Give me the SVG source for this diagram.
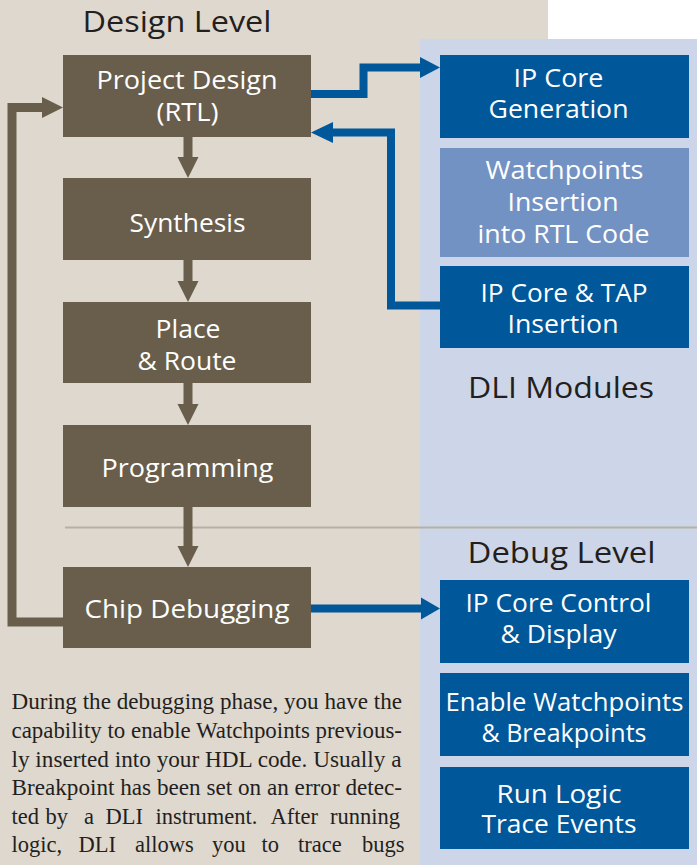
<svg xmlns="http://www.w3.org/2000/svg" width="697" height="865" viewBox="0 0 697 865">
<style>
.bx{fill:#695e4b}
.bl{fill:#00579a}
.lb{fill:#7292c3}
.t{font-family:"Open Sans","Noto Sans",sans-serif;font-size:26px;fill:#ffffff}
.h{font-family:"Open Sans","Noto Sans",sans-serif;font-size:30px;fill:#231f20}
.p{font-family:"Liberation Serif","Times New Roman",serif;font-size:22.5px;fill:#231f20}
.bc{fill:none;stroke:#695e4b;stroke-width:9;stroke-linejoin:miter}
.uc{fill:none;stroke:#00579a;stroke-width:8;stroke-linejoin:miter}
.ba{fill:#695e4b}
.ua{fill:#00579a}
</style>
<rect x="0" y="0" width="697" height="865" fill="#dfd8cf"/>
<rect x="548" y="0" width="149" height="39" fill="#ffffff"/>
<rect x="420" y="39" width="277" height="826" fill="#cdd6e8"/>
<line x1="65" y1="527.5" x2="697" y2="527.5" stroke="#b8b0a4" stroke-width="2"/>

<text class="h" x="82.5" y="32" textLength="189" lengthAdjust="spacingAndGlyphs">Design Level</text>
<text class="h" x="468" y="398" textLength="186" font-size="33" lengthAdjust="spacingAndGlyphs">DLI Modules</text>
<text class="h" x="467.5" y="563" textLength="188" lengthAdjust="spacingAndGlyphs">Debug Level</text>

<g id="connectors">
  <line class="bc" x1="188" y1="136" x2="188" y2="158"/>
  <polygon class="ba" points="177.5,157 198.5,157 188,178"/>
  <line class="bc" x1="188" y1="259" x2="188" y2="282"/>
  <polygon class="ba" points="177.5,281 198.5,281 188,302"/>
  <line class="bc" x1="188" y1="382" x2="188" y2="405"/>
  <polygon class="ba" points="177.5,404 198.5,404 188,425"/>
  <line class="bc" x1="188" y1="506" x2="188" y2="547"/>
  <polygon class="ba" points="177.5,546 198.5,546 188,567"/>
  <polyline class="bc" points="64,622 12,622 12,107.5 43,107.5"/>
  <polygon class="ba" points="42,97 42,118 63,107.5"/>
  <polyline class="uc" points="310,94 363.5,94 363.5,67.5 421,67.5"/>
  <polygon class="ua" points="420,57 420,78 440,67.5"/>
  <polyline class="uc" points="441,305.5 391,305.5 391,132.5 332,132.5"/>
  <polygon class="ua" points="333,122 333,143 311,132.5"/>
  <line class="uc" x1="310" y1="608.5" x2="422" y2="608.5"/>
  <polygon class="ua" points="421,597.5 421,619.5 440,608.5"/>
</g>

<g id="project-design">
  <rect class="bx" x="63" y="55" width="248" height="82"/>
  <text class="t" x="96.5" y="89" textLength="181" lengthAdjust="spacingAndGlyphs">Project Design</text>
  <text class="t" x="156.5" y="121" textLength="62" lengthAdjust="spacingAndGlyphs">(RTL)</text>
</g>
<g id="synthesis">
  <rect class="bx" x="63" y="178" width="248" height="82"/>
  <text class="t" x="129.5" y="231.5" textLength="116" lengthAdjust="spacingAndGlyphs">Synthesis</text>
</g>
<g id="place-route">
  <rect class="bx" x="63" y="302" width="248" height="81"/>
  <text class="t" x="155.5" y="338" textLength="65" lengthAdjust="spacingAndGlyphs">Place</text>
  <text class="t" x="137.5" y="370" textLength="99" lengthAdjust="spacingAndGlyphs">&amp; Route</text>
</g>
<g id="programming">
  <rect class="bx" x="63" y="425" width="248" height="82"/>
  <text class="t" x="101.5" y="476.5" textLength="172" lengthAdjust="spacingAndGlyphs">Programming</text>
</g>
<g id="chip-debugging">
  <rect class="bx" x="63" y="567" width="248" height="81"/>
  <text class="t" x="84.5" y="617.5" textLength="205" lengthAdjust="spacingAndGlyphs">Chip Debugging</text>
</g>

<g id="ip-core-generation">
  <rect class="bl" x="440" y="55" width="249" height="83"/>
  <text class="t" x="513.5" y="86.7" textLength="90" lengthAdjust="spacingAndGlyphs">IP Core</text>
  <text class="t" x="488.5" y="118" textLength="140" lengthAdjust="spacingAndGlyphs">Generation</text>
</g>
<g id="watchpoints-insertion">
  <rect class="lb" x="440" y="148" width="249" height="109"/>
  <text class="t" x="485.5" y="179" textLength="158" lengthAdjust="spacingAndGlyphs">Watchpoints</text>
  <text class="t" x="507.5" y="211" textLength="111" lengthAdjust="spacingAndGlyphs">Insertion</text>
  <text class="t" x="477.5" y="242.7" textLength="172" lengthAdjust="spacingAndGlyphs">into RTL Code</text>
</g>
<g id="ip-core-tap-insertion">
  <rect class="bl" x="440" y="266" width="249" height="82"/>
  <text class="t" x="480.5" y="301.7" textLength="167" lengthAdjust="spacingAndGlyphs">IP Core &amp; TAP</text>
  <text class="t" x="507.5" y="333" textLength="111" lengthAdjust="spacingAndGlyphs">Insertion</text>
</g>
<g id="ip-core-control">
  <rect class="bl" x="440" y="580" width="249" height="83"/>
  <text class="t" x="465.5" y="611.7" textLength="186" lengthAdjust="spacingAndGlyphs">IP Core Control</text>
  <text class="t" x="500.5" y="642.7" textLength="116" lengthAdjust="spacingAndGlyphs">&amp; Display</text>
</g>
<g id="enable-watchpoints">
  <rect class="bl" x="440" y="673" width="249" height="83"/>
  <text class="t" x="445.5" y="710.7" textLength="238" lengthAdjust="spacingAndGlyphs">Enable Watchpoints</text>
  <text class="t" x="481.5" y="741.7" textLength="165" lengthAdjust="spacingAndGlyphs">&amp; Breakpoints</text>
</g>
<g id="run-logic">
  <rect class="bl" x="440" y="767" width="249" height="82"/>
  <text class="t" x="496.5" y="803" textLength="125" lengthAdjust="spacingAndGlyphs">Run Logic</text>
  <text class="t" x="481.5" y="833" textLength="155" lengthAdjust="spacingAndGlyphs">Trace Events</text>
</g>

<g id="paragraph">
  <text class="p" x="11.5" y="709.3" textLength="390.5" lengthAdjust="spacingAndGlyphs">During the debugging phase, you have the</text>
  <text class="p" x="11.5" y="737.9" textLength="390.5" lengthAdjust="spacingAndGlyphs">capability to enable Watchpoints previous-</text>
  <text class="p" x="11.5" y="766.5" textLength="390" lengthAdjust="spacingAndGlyphs">ly inserted into your HDL code. Usually a</text>
  <text class="p" x="11.5" y="795.1" textLength="390.5" lengthAdjust="spacingAndGlyphs">Breakpoint has been set on an error detec-</text>
  <text class="p" y="823.7"><tspan x="11.5">ted</tspan><tspan x="45.5">by</tspan><tspan x="84">a</tspan><tspan x="105.5">DLI</tspan><tspan x="155.5">instrument.</tspan><tspan x="270.5">After</tspan><tspan x="330">running</tspan></text>
  <text class="p" y="852.3"><tspan x="11.5">logic,</tspan><tspan x="78.5">DLI</tspan><tspan x="135">allows</tspan><tspan x="212">you</tspan><tspan x="261.5">to</tspan><tspan x="298">trace</tspan><tspan x="362">bugs</tspan></text>
</g>
</svg>
